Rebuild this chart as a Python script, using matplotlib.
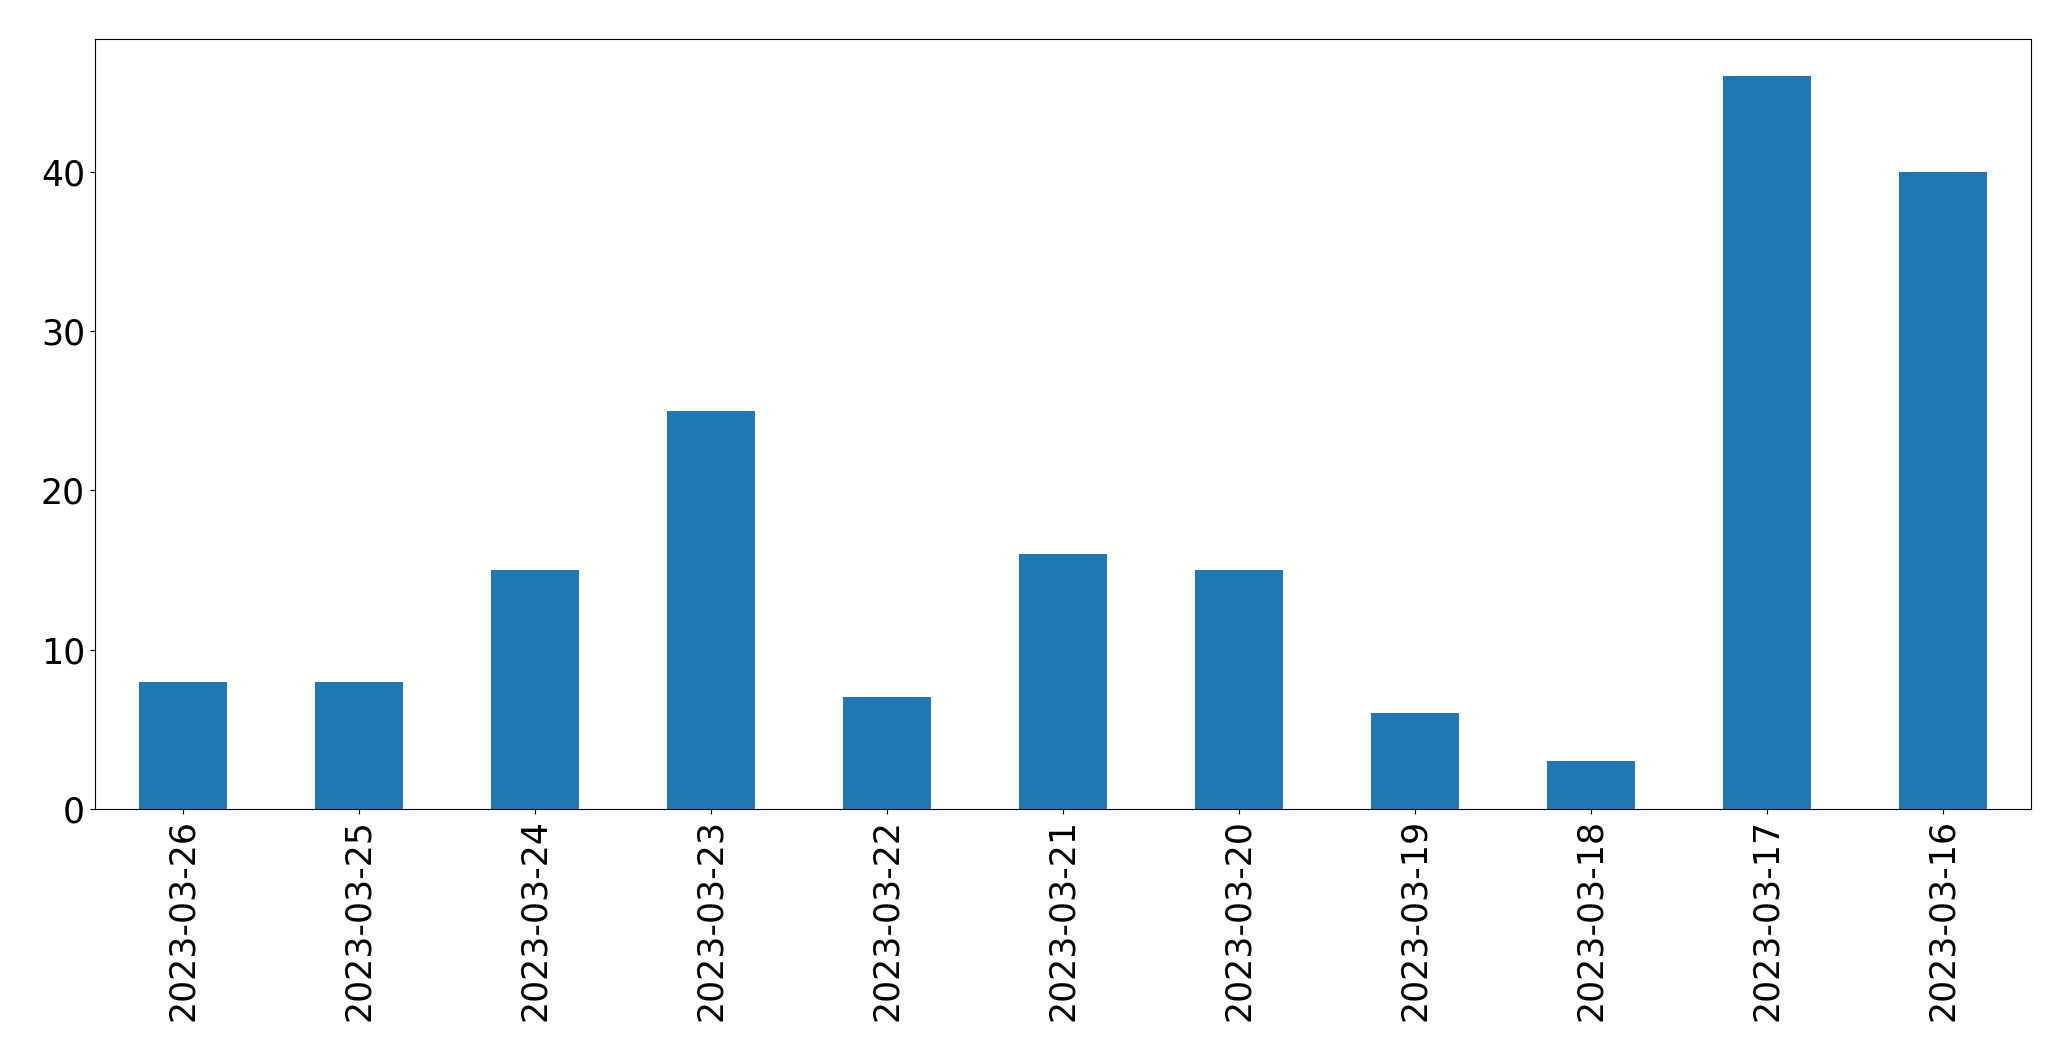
import matplotlib
matplotlib.use("Agg")
import matplotlib.pyplot as plt
import numpy as np

dates = ["2023-03-26", "2023-03-25", "2023-03-24", "2023-03-23", "2023-03-22",
         "2023-03-21", "2023-03-20", "2023-03-19", "2023-03-18", "2023-03-17",
         "2023-03-16"]
counts = [8, 8, 15, 25, 7, 16, 15, 6, 3, 46, 40]

fig = plt.figure(figsize=(20.71, 10.61), dpi=100)
ax = fig.add_axes([94.7 / 2071, 1 - 809 / 1061, (2031.3 - 94.7) / 2071, (809 - 39.3) / 1061])
x = np.arange(len(dates))
ax.bar(x, counts, width=0.5, color="#1f77b4")
ax.set_xlim(-0.5, len(dates) - 0.5)
ax.set_ylim(0, max(counts) * 1.05)
ax.set_xticks(x)
ax.set_xticklabels(dates, rotation=90)
ax.set_yticks([0, 10, 20, 30, 40])
ax.tick_params(labelsize=25)
fig.savefig("out.png", dpi=100)
